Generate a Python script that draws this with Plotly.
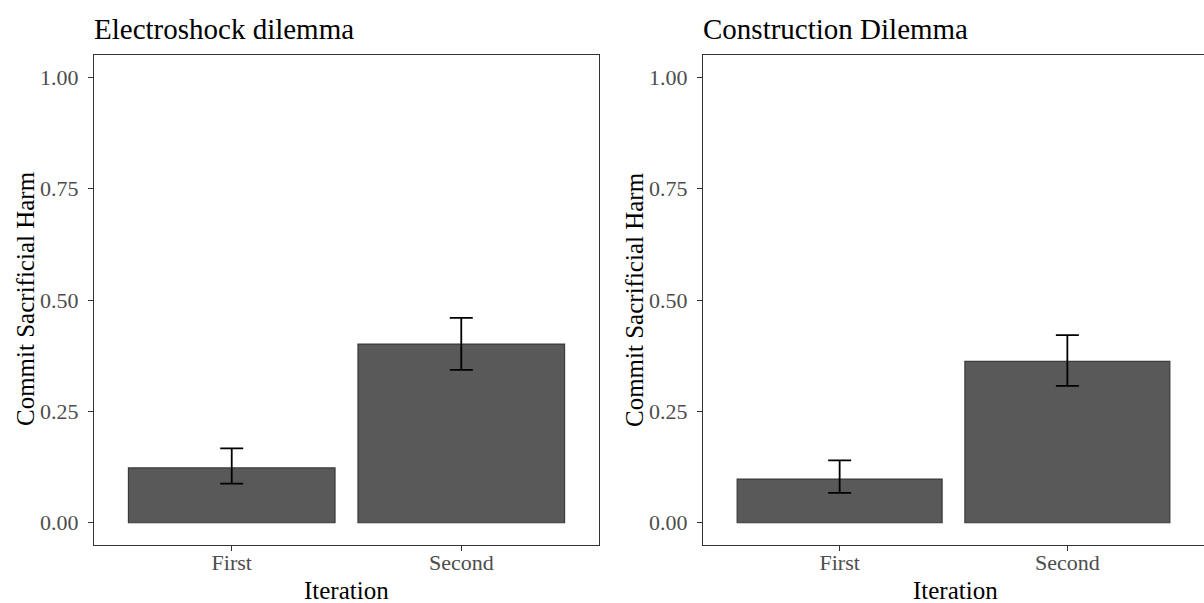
import plotly.graph_objects as go

categories = ["First", "Second"]
titles = ["Electroshock dilemma", "Construction Dilemma"]
means_electro = [0.123, 0.401]
upper_electro = [0.167, 0.460]
lower_electro = [0.088, 0.343]
means_constr = [0.098, 0.362]
upper_constr = [0.140, 0.421]
lower_constr = [0.067, 0.307]
yticks = [0.0, 0.25, 0.5, 0.75, 1.0]
yticklabels = ["0.00", "0.25", "0.50", "0.75", "1.00"]

W, H = 1204, 603
FONT = "Liberation Serif, Times New Roman, serif"

fig = go.Figure()
panels = [
    (means_electro, upper_electro, lower_electro, "x", "y"),
    (means_constr, upper_constr, lower_constr, "x2", "y2"),
]
for m, up, lo, xa, ya in panels:
    fig.add_trace(go.Bar(
        x=categories, y=m, xaxis=xa, yaxis=ya, width=0.9,
        marker=dict(color="#595959", line=dict(color="#3a3a3a", width=1.2)),
        error_y=dict(type="data", symmetric=False,
                     array=[u - v for u, v in zip(up, m)],
                     arrayminus=[v - l for v, l in zip(m, lo)],
                     color="black", thickness=1.8, width=11.5),
        showlegend=False,
    ))

yd = [(H - 545) / H, (H - 55) / H]
xd1 = [94 / W, 599 / W]
xd2 = [703 / W, 1.0]

axis_common = dict(showline=True, mirror=True, linecolor="#333333", linewidth=1.2,
                   ticks="outside", ticklen=5, tickcolor="#333333", tickwidth=1.2,
                   showgrid=False, zeroline=False,
                   tickfont=dict(family=FONT, size=22, color="#4d4d4d"))
xaxis_common = dict(axis_common, type="category", range=[-0.6, 1.6], ticklabelstandoff=-8)
yaxis_common = dict(axis_common, range=[-0.05, 1.05], tickvals=yticks, ticktext=yticklabels,
                    ticklabelstandoff=5)

fig.update_layout(
    width=W, height=H, margin=dict(l=0, r=0, t=0, b=0),
    plot_bgcolor="white", paper_bgcolor="white",
    xaxis=dict(xaxis_common, domain=xd1, anchor="y"),
    yaxis=dict(yaxis_common, domain=yd, anchor="x"),
    xaxis2=dict(xaxis_common, domain=xd2, anchor="y2"),
    yaxis2=dict(yaxis_common, domain=yd, anchor="x2"),
    bargap=0.1,
)

ann = []
for i, (xl, title) in enumerate(zip([94, 703], titles)):
    ann.append(dict(text=title, x=(xl - 2) / W, y=1 - 29 / H, xref="paper", yref="paper",
                    xanchor="left", yanchor="middle", showarrow=False,
                    font=dict(family=FONT, size=29, color="black")))
    ann.append(dict(text="Commit Sacrificial Harm", x=(xl - 69) / W, y=1 - 299 / H,
                    xref="paper", yref="paper", xanchor="center", yanchor="middle",
                    textangle=-90, showarrow=False,
                    font=dict(family=FONT, size=25, color="black")))
for cx in [(94 + 599) / 2, (703 + 1208) / 2]:
    ann.append(dict(text="Iteration", x=cx / W, y=1 - 590 / H, xref="paper", yref="paper",
                    xanchor="center", yanchor="middle", showarrow=False,
                    font=dict(family=FONT, size=25, color="black")))
fig.update_layout(annotations=ann)

fig.write_html("out.html")
